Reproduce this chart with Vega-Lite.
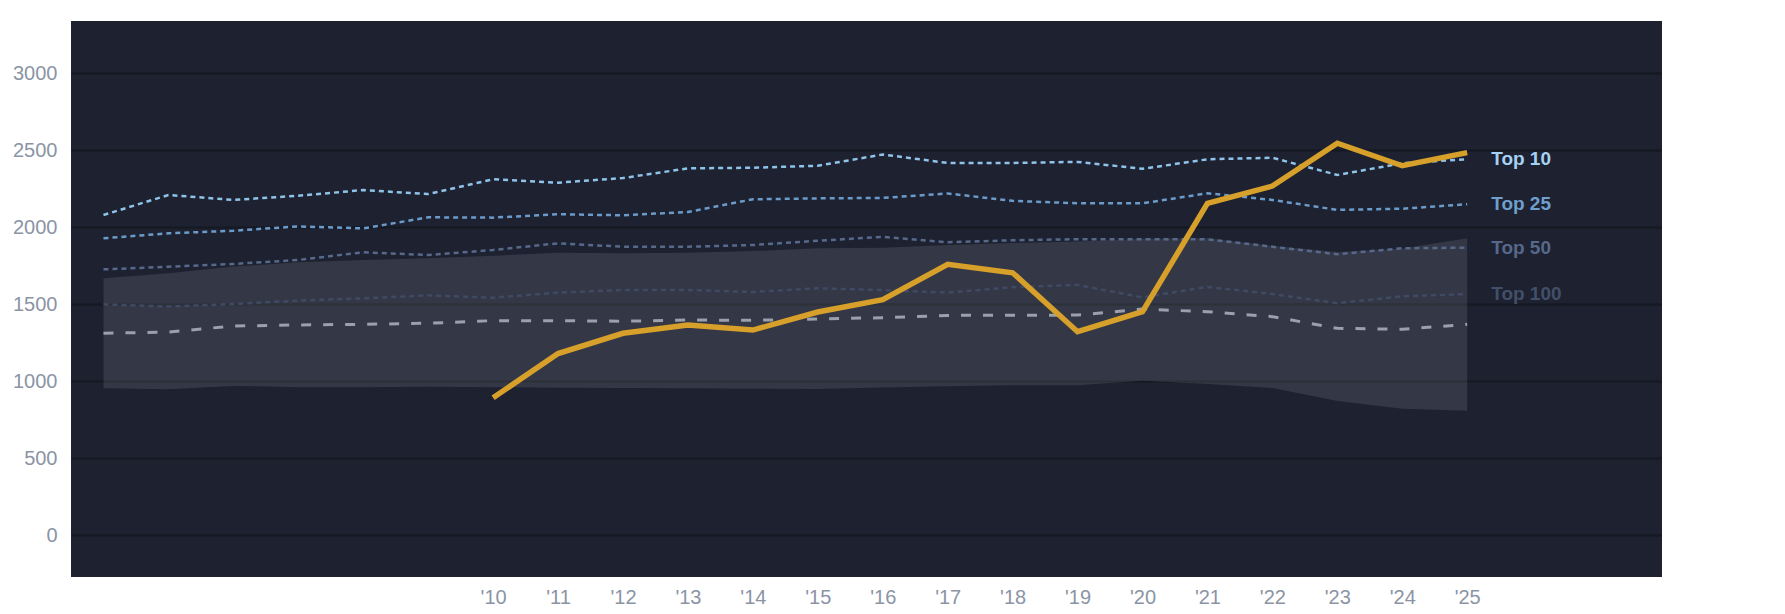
{
  "$schema": "https://vega.github.io/schema/vega-lite/v6.json",
  "width": 1591,
  "height": 556,
  "padding": {"left": 11, "top": 21, "right": 0, "bottom": 0},
  "background": "#ffffff",
  "description": "Team value against league percentile bands, 2004-2025",
  "datasets": {
    "band": [
      {"year": 2004, "lo": 955, "hi": 1669},
      {"year": 2005, "lo": 948, "hi": 1701},
      {"year": 2006, "lo": 970, "hi": 1745},
      {"year": 2007, "lo": 962, "hi": 1773},
      {"year": 2008, "lo": 961, "hi": 1788},
      {"year": 2009, "lo": 965, "hi": 1799},
      {"year": 2010, "lo": 962, "hi": 1816},
      {"year": 2011, "lo": 958, "hi": 1835},
      {"year": 2012, "lo": 956, "hi": 1831},
      {"year": 2013, "lo": 955, "hi": 1835},
      {"year": 2014, "lo": 952, "hi": 1846},
      {"year": 2015, "lo": 950, "hi": 1864},
      {"year": 2016, "lo": 960, "hi": 1868},
      {"year": 2017, "lo": 968, "hi": 1886},
      {"year": 2018, "lo": 975, "hi": 1898},
      {"year": 2019, "lo": 975, "hi": 1908},
      {"year": 2020, "lo": 1004, "hi": 1925},
      {"year": 2021, "lo": 983, "hi": 1929},
      {"year": 2022, "lo": 957, "hi": 1880},
      {"year": 2023, "lo": 872, "hi": 1840},
      {"year": 2024, "lo": 822, "hi": 1862},
      {"year": 2025, "lo": 809, "hi": 1929}
    ],
    "tiers": [
      {"year": 2004, "series": "Top 10", "value": 2080},
      {"year": 2005, "series": "Top 10", "value": 2210},
      {"year": 2006, "series": "Top 10", "value": 2178},
      {"year": 2007, "series": "Top 10", "value": 2205},
      {"year": 2008, "series": "Top 10", "value": 2242},
      {"year": 2009, "series": "Top 10", "value": 2216},
      {"year": 2010, "series": "Top 10", "value": 2312},
      {"year": 2011, "series": "Top 10", "value": 2290},
      {"year": 2012, "series": "Top 10", "value": 2320},
      {"year": 2013, "series": "Top 10", "value": 2383},
      {"year": 2014, "series": "Top 10", "value": 2387},
      {"year": 2015, "series": "Top 10", "value": 2400},
      {"year": 2016, "series": "Top 10", "value": 2473},
      {"year": 2017, "series": "Top 10", "value": 2418},
      {"year": 2018, "series": "Top 10", "value": 2418},
      {"year": 2019, "series": "Top 10", "value": 2425},
      {"year": 2020, "series": "Top 10", "value": 2380},
      {"year": 2021, "series": "Top 10", "value": 2442},
      {"year": 2022, "series": "Top 10", "value": 2452},
      {"year": 2023, "series": "Top 10", "value": 2340},
      {"year": 2024, "series": "Top 10", "value": 2416},
      {"year": 2025, "series": "Top 10", "value": 2442},
      {"year": 2004, "series": "Top 25", "value": 1929},
      {"year": 2005, "series": "Top 25", "value": 1961},
      {"year": 2006, "series": "Top 25", "value": 1978},
      {"year": 2007, "series": "Top 25", "value": 2006},
      {"year": 2008, "series": "Top 25", "value": 1993},
      {"year": 2009, "series": "Top 25", "value": 2065},
      {"year": 2010, "series": "Top 25", "value": 2063},
      {"year": 2011, "series": "Top 25", "value": 2085},
      {"year": 2012, "series": "Top 25", "value": 2078},
      {"year": 2013, "series": "Top 25", "value": 2100},
      {"year": 2014, "series": "Top 25", "value": 2182},
      {"year": 2015, "series": "Top 25", "value": 2188},
      {"year": 2016, "series": "Top 25", "value": 2191},
      {"year": 2017, "series": "Top 25", "value": 2220},
      {"year": 2018, "series": "Top 25", "value": 2172},
      {"year": 2019, "series": "Top 25", "value": 2156},
      {"year": 2020, "series": "Top 25", "value": 2156},
      {"year": 2021, "series": "Top 25", "value": 2221},
      {"year": 2022, "series": "Top 25", "value": 2178},
      {"year": 2023, "series": "Top 25", "value": 2113},
      {"year": 2024, "series": "Top 25", "value": 2121},
      {"year": 2025, "series": "Top 25", "value": 2150},
      {"year": 2004, "series": "Top 50", "value": 1727},
      {"year": 2005, "series": "Top 50", "value": 1744},
      {"year": 2006, "series": "Top 50", "value": 1762},
      {"year": 2007, "series": "Top 50", "value": 1788},
      {"year": 2008, "series": "Top 50", "value": 1838},
      {"year": 2009, "series": "Top 50", "value": 1820},
      {"year": 2010, "series": "Top 50", "value": 1853},
      {"year": 2011, "series": "Top 50", "value": 1896},
      {"year": 2012, "series": "Top 50", "value": 1874},
      {"year": 2013, "series": "Top 50", "value": 1874},
      {"year": 2014, "series": "Top 50", "value": 1885},
      {"year": 2015, "series": "Top 50", "value": 1913},
      {"year": 2016, "series": "Top 50", "value": 1938},
      {"year": 2017, "series": "Top 50", "value": 1903},
      {"year": 2018, "series": "Top 50", "value": 1916},
      {"year": 2019, "series": "Top 50", "value": 1923},
      {"year": 2020, "series": "Top 50", "value": 1923},
      {"year": 2021, "series": "Top 50", "value": 1922},
      {"year": 2022, "series": "Top 50", "value": 1874},
      {"year": 2023, "series": "Top 50", "value": 1825},
      {"year": 2024, "series": "Top 50", "value": 1864},
      {"year": 2025, "series": "Top 50", "value": 1868},
      {"year": 2004, "series": "Top 100", "value": 1500},
      {"year": 2005, "series": "Top 100", "value": 1485},
      {"year": 2006, "series": "Top 100", "value": 1502},
      {"year": 2007, "series": "Top 100", "value": 1524},
      {"year": 2008, "series": "Top 100", "value": 1539},
      {"year": 2009, "series": "Top 100", "value": 1558},
      {"year": 2010, "series": "Top 100", "value": 1543},
      {"year": 2011, "series": "Top 100", "value": 1576},
      {"year": 2012, "series": "Top 100", "value": 1593},
      {"year": 2013, "series": "Top 100", "value": 1593},
      {"year": 2014, "series": "Top 100", "value": 1580},
      {"year": 2015, "series": "Top 100", "value": 1604},
      {"year": 2016, "series": "Top 100", "value": 1592},
      {"year": 2017, "series": "Top 100", "value": 1576},
      {"year": 2018, "series": "Top 100", "value": 1611},
      {"year": 2019, "series": "Top 100", "value": 1626},
      {"year": 2020, "series": "Top 100", "value": 1545},
      {"year": 2021, "series": "Top 100", "value": 1613},
      {"year": 2022, "series": "Top 100", "value": 1567},
      {"year": 2023, "series": "Top 100", "value": 1507},
      {"year": 2024, "series": "Top 100", "value": 1552},
      {"year": 2025, "series": "Top 100", "value": 1567}
    ],
    "median": [
      {"year": 2004, "value": 1312},
      {"year": 2005, "value": 1320},
      {"year": 2006, "value": 1359},
      {"year": 2007, "value": 1366},
      {"year": 2008, "value": 1370},
      {"year": 2009, "value": 1377},
      {"year": 2010, "value": 1394},
      {"year": 2011, "value": 1394},
      {"year": 2012, "value": 1390},
      {"year": 2013, "value": 1398},
      {"year": 2014, "value": 1396},
      {"year": 2015, "value": 1405},
      {"year": 2016, "value": 1413},
      {"year": 2017, "value": 1428},
      {"year": 2018, "value": 1429},
      {"year": 2019, "value": 1430},
      {"year": 2020, "value": 1469},
      {"year": 2021, "value": 1452},
      {"year": 2022, "value": 1420},
      {"year": 2023, "value": 1344},
      {"year": 2024, "value": 1338},
      {"year": 2025, "value": 1370}
    ],
    "team": [
      {"year": 2010, "value": 893},
      {"year": 2011, "value": 1180},
      {"year": 2012, "value": 1312},
      {"year": 2013, "value": 1366},
      {"year": 2014, "value": 1333},
      {"year": 2015, "value": 1450},
      {"year": 2016, "value": 1530},
      {"year": 2017, "value": 1760},
      {"year": 2018, "value": 1705},
      {"year": 2019, "value": 1322},
      {"year": 2020, "value": 1452},
      {"year": 2021, "value": 2156},
      {"year": 2022, "value": 2268},
      {"year": 2023, "value": 2546},
      {"year": 2024, "value": 2400},
      {"year": 2025, "value": 2485}
    ]
  },
  "encoding": {
    "x": {
      "field": "year",
      "type": "quantitative",
      "scale": {"domain": [2003.5, 2028], "nice": false, "zero": false},
      "axis": {
        "title": null,
        "values": [2010, 2011, 2012, 2013, 2014, 2015, 2016, 2017, 2018, 2019, 2020, 2021, 2022, 2023, 2024, 2025],
        "labelExpr": "\"'\" + substring(toString(datum.value), 2)",
        "grid": false,
        "domain": false,
        "ticks": false,
        "labelPadding": 10,
        "labelFontSize": 20,
        "labelColor": "#8b94a5",
        "labelFont": "Liberation Sans",
        "minExtent": 36,
        "maxExtent": 36
      }
    },
    "y": {
      "field": "value",
      "type": "quantitative",
      "scale": {"domain": [-271, 3340], "nice": false, "zero": false},
      "axis": {
        "title": null,
        "values": [0, 500, 1000, 1500, 2000, 2500, 3000],
        "format": "d",
        "grid": true,
        "gridColor": "#151922",
        "gridWidth": 2,
        "domain": false,
        "ticks": false,
        "labelPadding": 14,
        "labelFontSize": 20,
        "labelColor": "#8b94a5",
        "labelFont": "Liberation Sans",
        "minExtent": 60,
        "maxExtent": 60
      }
    }
  },
  "layer": [
    {
      "data": {"name": "band"},
      "mark": {"type": "area", "color": "#ffffff", "opacity": 0.1},
      "encoding": {
        "y": {"field": "hi", "type": "quantitative"},
        "y2": {"field": "lo"}
      }
    },
    {
      "data": {"name": "median"},
      "mark": {"type": "line", "color": "#9aa0ac", "strokeWidth": 3, "strokeDash": [10, 12]}
    },
    {
      "data": {"name": "tiers"},
      "mark": {"type": "line", "strokeWidth": 2.5, "strokeDash": [5, 4]},
      "encoding": {
        "detail": {"field": "series"},
        "color": {
          "field": "series",
          "type": "nominal",
          "legend": null,
          "scale": {
            "domain": ["Top 10", "Top 25", "Top 50", "Top 100"],
            "range": ["#8fc3ea", "#6b9bca", "#56698b", "#3f4a64"]
          }
        }
      }
    },
    {
      "data": {"name": "team"},
      "mark": {"type": "line", "color": "#d6a02a", "strokeWidth": 5.5, "strokeJoin": "miter"}
    },
    {
      "data": {"name": "tiers"},
      "transform": [{"filter": "datum.year == 2025"}],
      "mark": {
        "type": "text",
        "align": "left",
        "baseline": "middle",
        "dx": 24,
        "fontSize": 19,
        "fontWeight": "bold",
        "font": "Liberation Sans"
      },
      "encoding": {
        "text": {"field": "series"},
        "color": {
          "field": "series",
          "type": "nominal",
          "legend": null,
          "scale": {
            "domain": ["Top 10", "Top 25", "Top 50", "Top 100"],
            "range": ["#a6d1f3", "#6f9fcd", "#56698b", "#434f69"]
          }
        }
      }
    }
  ],
  "resolve": {"scale": {"color": "independent"}},
  "config": {
    "view": {"fill": "#1d2130", "stroke": null}
  }
}
